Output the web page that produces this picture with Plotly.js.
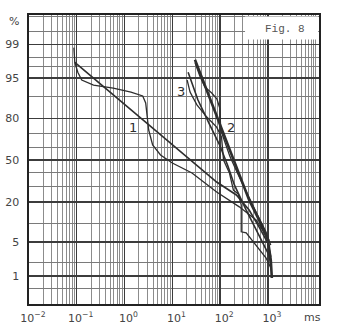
<!DOCTYPE html>
<html><head><meta charset="utf-8">
<script src="https://cdn.plot.ly/plotly-3.0.1.min.js"></script>
<style>html,body{margin:0;padding:0;background:#fff}</style>
</head><body><div id="chart" style="width:345px;height:331px"></div>
<script>
// ---- axis ticks / labels ----
const xTickVals = [0.01, 0.1, 1, 10, 100, 1000];
const xTickText = ['10<sup>−2</sup>', '10<sup>−1</sup>', '10<sup>0</sup>', '10<sup>1</sup>', '10<sup>2</sup>', '10<sup>3</sup>'];
const yTickPercents = [1, 5, 20, 50, 80, 95, 99];
const yTickText = ['1', '5', '20', '50', '80', '95', '99'];
const yGridPercents = [0.5, 2, 10, 30, 40, 60, 70, 90, 97, 98, 99.5, 99.8];

// ---- curve 1 ----
const fit1Ms  = [0.091, 2.77, 84.7, 219, 405, 652, 1000, 1150];
const fit1Pct = [97.5, 77.8, 33.0, 24.2, 15.8, 9.0, 4.8, 2.6];
const emp1Ms  = [0.087, 0.091, 0.105, 0.127, 0.224, 0.58, 1.36, 2.40, 2.77, 2.91, 3.20, 3.87, 5.66, 10, 25.8, 84.7, 252, 566, 1050];
const emp1Pct = [98.8, 97.5, 96.1, 94.6, 93.4, 92.6, 91.4, 90.1, 87.4, 81.7, 72.7, 61.9, 54.1, 47.7, 39.8, 26.1, 17.4, 11.5, 5.45];
// ---- curve 2 ----
const fit2Ms  = [29.8, 77.0, 190, 405, 652, 1000, 1150, 1210];
const fit2Pct = [97.8, 84.2, 50.1, 21.2, 11.5, 5.45, 2.25, 0.90];
const emp2Ms  = [29.8, 37.8, 47.9, 66.8, 86.0, 99.0, 103, 125, 160, 230, 336, 566, 910, 1150];
const emp2Pct = [97.5, 95.4, 92.9, 91.1, 89.0, 84.9, 72.7, 64.0, 53.0, 39.8, 27.4, 14.9, 7.5, 4.4];
// ---- curve 3 ----
const fit3Ms  = [21.4, 34.4, 60.8, 97.7, 143, 199, 352, 652, 1050, 1150];
const fit3Pct = [96.1, 88.6, 76.0, 61.9, 46.1, 30.9, 15.8, 6.6, 2.85, 1.77];
const emp3Ms  = [20.4, 23.5, 32.7, 52.7, 84.7, 107, 118, 157, 190, 240, 277, 277, 277, 352, 566, 910, 1150];
const emp3Pct = [94.6, 91.4, 86.6, 80.6, 74.6, 67.9, 50.1, 39.8, 27.4, 24.8, 18.4, 10.7, 7.5, 7.2, 4.4, 2.5, 1.53];

// inverse normal CDF (probability paper)
function probit(p){
  const a=[-3.969683028665376e+01,2.209460984245205e+02,-2.759285104469687e+02,1.383577518672690e+02,-3.066479806614716e+01,2.506628277459239e+00];
  const b=[-5.447609879822406e+01,1.615858368580409e+02,-1.556989798598866e+02,6.680131188771972e+01,-1.328068155288572e+01];
  const c=[-7.784894002430293e-03,-3.223964580411365e-01,-2.400758277161838e+00,-2.549732539343734e+00,4.374664141464968e+00,2.938163982698783e+00];
  const d=[7.784695709041462e-03,3.224671290700398e-01,2.445134137142996e+00,3.754408661907416e+00];
  const pl=0.02425, ph=1-pl; let q,r;
  if(p<pl){q=Math.sqrt(-2*Math.log(p));return (((((c[0]*q+c[1])*q+c[2])*q+c[3])*q+c[4])*q+c[5])/((((d[0]*q+d[1])*q+d[2])*q+d[3])*q+1);}
  if(p<=ph){q=p-0.5;r=q*q;return (((((a[0]*r+a[1])*r+a[2])*r+a[3])*r+a[4])*r+a[5])*q/(((((b[0]*r+b[1])*r+b[2])*r+b[3])*r+b[4])*r+1);}
  q=Math.sqrt(-2*Math.log(1-p));return -(((((c[0]*q+c[1])*q+c[2])*q+c[3])*q+c[4])*q+c[5])/((((d[0]*q+d[1])*q+d[2])*q+d[3])*q+1);
}
const toZ = arr => arr.map(p => probit(p/100));

const ink = '#2e2e2e';
function tr(xs, ps, w){ return {x: xs, y: toZ(ps), mode: 'lines', line: {color: ink, width: w}, hoverinfo: 'skip', showlegend: false}; }

const data = [
  tr(fit1Ms, fit1Pct, 1.6), tr(emp1Ms, emp1Pct, 1.3),
  tr(fit2Ms, fit2Pct, 2.6), tr(emp2Ms, emp2Pct, 1.3),
  tr(fit3Ms, fit3Pct, 1.6), tr(emp3Ms, emp3Pct, 1.3)
];

const tickFont = {family: 'DejaVu Sans, sans-serif', size: 11, color: '#444'};
const numFont = {family: 'DejaVu Sans, sans-serif', size: 13, color: ink};
function note(x, y, text, font){ return {xref: 'paper', yref: 'paper', x: x, y: y, xanchor: 'center', yanchor: 'middle', text: text, showarrow: false, font: font}; }

const layout = {
  width: 345, height: 331,
  margin: {l: 29, r: 26, t: 15, b: 27},
  paper_bgcolor: '#ffffff', plot_bgcolor: '#ffffff',
  showlegend: false,
  xaxis: {
    type: 'log', range: [-2, 4.07],
    tickmode: 'array', tickvals: xTickVals, ticktext: xTickText,
    showgrid: true, gridcolor: '#3c3c3c', gridwidth: 1.4,
    minor: {dtick: 'D1', showgrid: true, gridcolor: '#8c8c8c', gridwidth: 1},
    showline: true, mirror: true, linecolor: '#222', linewidth: 1.6,
    zeroline: false, ticks: '', tickfont: tickFont, ticklabelshift: 4, ticklabelstandoff: 3
  },
  yaxis: {
    range: [-2.888, 2.912],
    tickmode: 'array', tickvals: toZ(yTickPercents), ticktext: yTickText,
    showgrid: true, gridcolor: '#3c3c3c', gridwidth: 1.3,
    minor: {tickmode: 'array', tickvals: toZ(yGridPercents), showgrid: true, gridcolor: '#7a7a7a', gridwidth: 1},
    showline: true, mirror: true, linecolor: '#222', linewidth: 1.6,
    zeroline: false, ticks: '', tickfont: tickFont, ticklabelstandoff: 6
  },
  shapes: [
    {type: 'rect', xref: 'paper', yref: 'paper', x0: 0.745, x1: 0.997, y0: 0.915, y1: 0.995, fillcolor: '#ffffff', line: {width: 0}, layer: 'above'}
  ],
  annotations: [
    note(0.883, 0.952, 'Fig. 8', {family: 'Liberation Mono, DejaVu Sans Mono, monospace', size: 11, color: '#555'}),
    note(0.359, 0.609, '1', numFont),
    note(0.698, 0.609, '2', numFont),
    note(0.524, 0.737, '3', numFont),
    note(-0.052, 0.976, '%', tickFont),
    note(0.976, -0.048, 'ms', tickFont)
  ]
};
Plotly.newPlot('chart', data, layout, {displayModeBar: false, staticPlot: true});
</script>
</body></html>
